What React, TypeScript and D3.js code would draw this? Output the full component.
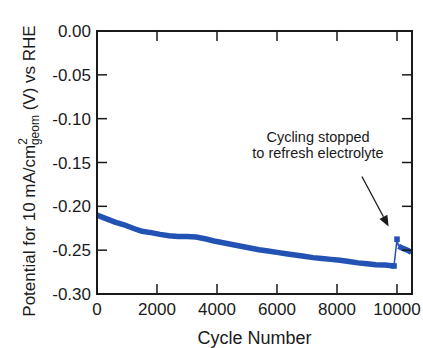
import * as d3 from 'd3';

// cycle number vs potential (V vs RHE)
const SEG_BEFORE: [number, number][] = [
  [0, -0.21], [300, -0.214], [600, -0.218], [900, -0.221], [1200, -0.225],
  [1500, -0.2285], [1800, -0.23], [2100, -0.232], [2400, -0.2335], [2700, -0.2345],
  [3000, -0.2345], [3300, -0.235], [3600, -0.237], [3900, -0.2395], [4200, -0.2415],
  [4500, -0.2435], [4800, -0.2455], [5100, -0.2475], [5400, -0.2495], [5700, -0.251],
  [6000, -0.2525], [6300, -0.254], [6600, -0.2555], [6900, -0.257], [7200, -0.2585],
  [7500, -0.2595], [7800, -0.2605], [8100, -0.2615], [8400, -0.263], [8700, -0.2645],
  [9000, -0.2655], [9300, -0.2665], [9600, -0.267], [9900, -0.268],
];
const RESTART: [number, number] = [10000, -0.2375];
const SEG_AFTER: [number, number][] = [
  [10050, -0.2455], [10200, -0.248], [10350, -0.25], [10480, -0.2525],
];
const X_TICKS = [0, 2000, 4000, 6000, 8000, 10000];
const Y_TICKS = [0, -0.05, -0.1, -0.15, -0.2, -0.25, -0.3];
const NOTE = ['Cycling stopped', 'to refresh electrolyte'];
const ARROW_FROM: [number, number] = [8830, -0.166];
const ARROW_TO: [number, number] = [9720, -0.223];

const W = 423;
const H = 348;
const M = { top: 31, right: 11, bottom: 54, left: 97 };
const BLUE = '#2352b5';
const INK = '#1a1a1a';
const FONT = '"Liberation Sans", Arial, Helvetica, sans-serif';

export default function App() {
  const x = d3.scaleLinear().domain([0, 10500]).range([M.left, W - M.right]);
  const y = d3.scaleLinear().domain([-0.3, 0]).range([H - M.bottom, M.top]);
  const line = d3.line<[number, number]>().x((d) => x(d[0])).y((d) => y(d[1]));

  const x0 = x.range()[0];
  const x1 = x.range()[1];
  const y0 = y.range()[0];
  const y1 = y.range()[1];
  const fmt = (v: number) => (v === 0 ? '0.00' : v.toFixed(2));

  // arrow head
  const ax = x(ARROW_TO[0]);
  const ay = y(ARROW_TO[1]);
  const ang = Math.atan2(ay - y(ARROW_FROM[1]), ax - x(ARROW_FROM[0]));
  const hl = 11;
  const hw = 4.5;
  const bx = ax - hl * Math.cos(ang);
  const by = ay - hl * Math.sin(ang);
  const head = `M${ax},${ay}L${bx + hw * Math.sin(ang)},${by - hw * Math.cos(ang)}L${bx - hw * Math.sin(ang)},${by + hw * Math.cos(ang)}Z`;

  const last = SEG_BEFORE[SEG_BEFORE.length - 1];

  return (
    <div style={{ position: 'absolute', left: 0, top: 0 }}>
      <svg width={W} height={H} style={{ display: 'block', background: '#fff' }} fontFamily={FONT}>
        {/* data */}
        <path d={line([last, RESTART, SEG_AFTER[0]]) ?? ''} fill="none" stroke={BLUE} strokeWidth={1.5} />
        <path d={line(SEG_BEFORE) ?? ''} fill="none" stroke={BLUE} strokeWidth={5.5} />
        <path d={line(SEG_AFTER) ?? ''} fill="none" stroke={BLUE} strokeWidth={5.5} />
        <rect x={x(RESTART[0]) - 2.8} y={y(RESTART[1]) - 2.8} width={5.6} height={5.6} fill={BLUE} />
        <rect x={x(last[0]) - 2.8} y={y(last[1]) - 2.8} width={5.6} height={5.6} fill={BLUE} />

        {/* frame with inward ticks */}
        <rect x={x0} y={y1} width={x1 - x0} height={y0 - y1} fill="none" stroke={INK} strokeWidth={2} />
        {X_TICKS.map((t) => (
          <g key={t}>
            <line x1={x(t)} x2={x(t)} y1={y0} y2={y0 - 10} stroke={INK} strokeWidth={1.5} />
            <line x1={x(t)} x2={x(t)} y1={y1} y2={y1 + 10} stroke={INK} strokeWidth={1.5} />
            <text x={x(t)} y={y0 + 21} textAnchor="middle" fontSize={17} fill={INK}>
              {t}
            </text>
          </g>
        ))}
        {Y_TICKS.map((t) => (
          <g key={t}>
            <line x1={x0} x2={x0 + 10} y1={y(t)} y2={y(t)} stroke={INK} strokeWidth={1.5} />
            <line x1={x1} x2={x1 - 10} y1={y(t)} y2={y(t)} stroke={INK} strokeWidth={1.5} />
            <text x={x0 - 6} y={y(t)} dy="0.36em" textAnchor="end" fontSize={17} fill={INK}>
              {fmt(t)}
            </text>
          </g>
        ))}

        {/* axis titles */}
        <text x={(x0 + x1) / 2} y={344} textAnchor="middle" fontSize={18} fill={INK}>
          Cycle Number
        </text>
        <text transform="translate(35,171) rotate(-90)" textAnchor="middle" fontSize={17} fill={INK}>
          Potential for 10 mA/cm
          <tspan dy={-8} fontSize={12}>2</tspan>
          <tspan dy={12} dx={-7} fontSize={12}>geom</tspan>
          <tspan dy={-4}> (V) vs RHE</tspan>
        </text>

        {/* annotation */}
        {NOTE.map((s, i) => (
          <text key={s} x={318} y={142 + i * 16} textAnchor="middle" fontSize={14.5} fill={INK}>
            {s}
          </text>
        ))}
        <line x1={x(ARROW_FROM[0])} y1={y(ARROW_FROM[1])} x2={bx} y2={by} stroke={INK} strokeWidth={1.3} />
        <path d={head} fill={INK} />
      </svg>
    </div>
  );
}
